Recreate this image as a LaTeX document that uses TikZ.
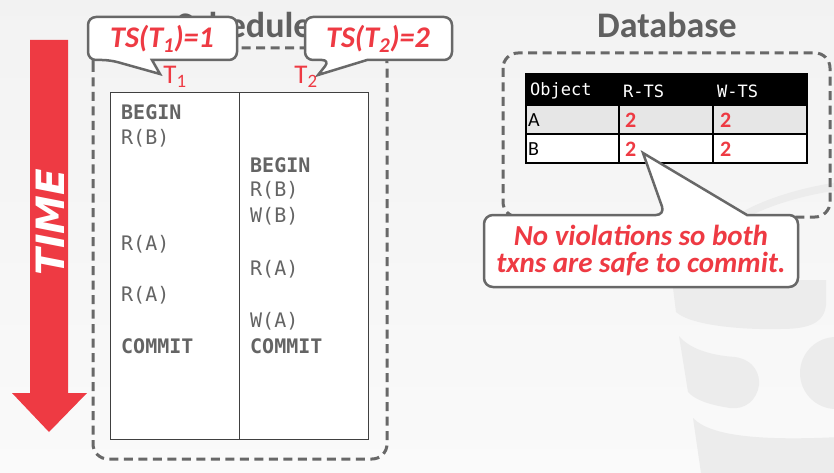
\documentclass[tikz,border=0pt]{standalone}
\usepackage{fontspec}
\setmainfont{Carlito}
\setmonofont{DejaVu Sans Mono}
\newfontfamily\timefont{DejaVu Sans}
\usetikzlibrary{positioning}
\definecolor{cmured}{RGB}{238,58,67}
\definecolor{boxgrey}{RGB}{104,104,104}
\definecolor{titlegrey}{RGB}{96,96,96}
\definecolor{opgrey}{RGB}{100,100,100}
\definecolor{rowgrey}{RGB}{230,230,230}
\definecolor{markgrey}{RGB}{236,236,236}

\begin{document}
\begin{tikzpicture}[x=1pt,y=-1pt,
                    dashbox/.style={draw=boxgrey, line width=3pt, dash pattern=on 9pt off 5.5pt, rounded corners=15pt},
                    bubble/.style={draw=boxgrey, line width=2.5pt, fill=white, line join=miter},
                    bubbletext/.style={text=cmured, font=\fontsize{30}{32}\selectfont\bfseries\itshape},
                    txnlabel/.style={text=cmured, font=\fontsize{27}{29}\selectfont},
                    op/.style={anchor=base west, inner sep=0pt, text=opgrey, font=\fontsize{20}{22}\selectfont\ttfamily},
                    opbold/.style={op, font=\fontsize{20}{22}\selectfont\ttfamily\bfseries},
                    title/.style={anchor=base, inner sep=0pt, text=titlegrey, font=\fontsize{36}{38}\selectfont\bfseries},
                    head/.style={anchor=west, inner sep=0pt, text=white, font=\fontsize{17}{19}\selectfont\ttfamily},
                    cell/.style={anchor=west, inner sep=0pt, font=\fontsize{20}{22}\selectfont},
                    stamp/.style={anchor=west, inner sep=0pt, text=cmured, font=\fontsize{22}{24}\selectfont\bfseries}]
                \useasboundingbox (0,0) rectangle (834,473);
                \fill[top color=black!5, bottom color=black!2] (0,0) rectangle (834,473);

                \begin{scope}
                    \clip (0,0) rectangle (834,473);
                    \fill[markgrey] (672,280) -- (826,280) -- (826,305) .. controls (824,325) and (805,329) .. (780,329)
                        .. controls (740,330) and (690,325) .. (676,312) -- cycle;
                    \fill[markgrey] (679,336) .. controls (692,352) and (720,356) .. (735,357)
                        .. controls (755,360) and (760,375) .. (759,385) .. controls (757,400) and (745,410) .. (730,408)
                        .. controls (710,405) and (695,400) .. (688,392) -- cycle;
                    \fill[markgrey] (836,373) circle (36);
                    \fill[markgrey] (693,418) .. controls (710,436) and (760,441) .. (840,437) -- (840,480) -- (702,480) -- cycle;
                    \fill[markgrey] (740,213) .. controls (770,196) and (810,186) .. (840,182) -- (840,190)
                        .. controls (810,194) and (775,203) .. (750,216) -- cycle;
                \end{scope}

                \fill[cmured] (30,40) -- (68,40) -- (68,393) -- (87,393) -- (49,432) -- (12,393) -- (30,393) -- cycle;
                \node[rotate=90, text=white, font=\fontsize{39}{41}\selectfont\timefont\bfseries\itshape] (time) at (50,222) {TIME};

                \node[title] (schedtitle) at (244,38) {Schedule};
                \draw[dashbox] (93,48) rectangle (387,459);
                \node[draw=black!75, fill=white, line width=1pt, minimum width=258pt, minimum height=346pt] (sched) at (239,266) {};
                \draw[black!75, line width=1pt] (sched.north) -- (sched.south);

                \node[opbold] (b1) at (121,120) {BEGIN};
                \node[op] (rb1) at (121,145) {R(B)};
                \node[opbold] (b2) at (250,172) {BEGIN};
                \node[op] (rb2) at (250,196) {R(B)};
                \node[op] (wb2) at (250,222) {W(B)};
                \node[op] (ra1) at (121,250) {R(A)};
                \node[op] (ra2) at (250,275) {R(A)};
                \node[op] (ra3) at (121,301) {R(A)};
                \node[op] (wa2) at (250,327) {W(A)};
                \node[opbold] (c1) at (121,353) {COMMIT};
                \node[opbold] (c2) at (250,353) {COMMIT};

                \draw[bubble] (110,60) -- (160,74) -- (152,60) [rounded corners=8pt] -- (237,60) -- (237,17) -- (88,17) -- (88,60) -- cycle;
                \node[bubbletext] (ts1) at (162,39) {TS(T\textsubscript{1})=1};
                \draw[bubble] (330,60) -- (318,75) -- (367,60) [rounded corners=8pt] -- (452,60) -- (452,17) -- (305,17) -- (305,60) -- cycle;
                \node[bubbletext] (ts2) at (378,39) {TS(T\textsubscript{2})=2};
                \node[txnlabel] (t1) at (175,77) {T\textsubscript{1}};
                \node[txnlabel] (t2) at (306,77) {T\textsubscript{2}};

                \node[title] (dbtitle) at (667,38) {Database};
                \draw[dashbox] (503,53) rectangle (830,217);
                \fill[black] (526,74) rectangle (807,105);
                \fill[rowgrey] (526,105) rectangle (807,134);
                \fill[white] (526,134) rectangle (807,163);
                \draw[line width=1.5pt] (526,74) rectangle (807,163);
                \draw[line width=1.5pt] (526,105) -- (807,105) (526,134) -- (807,134)
                    (619,105) -- (619,163) (713,105) -- (713,163);
                \node[head] (hobj) at (530,91) {Object};
                \node[head] (hrts) at (623,91) {R-TS};
                \node[head] (hwts) at (717,91) {W-TS};
                \node[cell] (oa) at (528,120) {A};
                \node[cell] (ob) at (528,149) {B};
                \node[stamp] (arts) at (625,120) {2};
                \node[stamp] (awts) at (720,120) {2};
                \node[stamp] (brts) at (625,149) {2};
                \node[stamp] (bwts) at (720,149) {2};

                \draw[bubble] (665,215) -- (643,153) -- (747,215) [rounded corners=9pt] -- (798,215) -- (798,287) -- (484,287) -- (484,215) -- cycle;
                \node[text=cmured, align=center, font=\fontsize{29}{27}\selectfont\bfseries\itshape] (note) at (641,251)
                    {No violations so both\\txns are safe to commit.};
\end{tikzpicture}
\end{document}
